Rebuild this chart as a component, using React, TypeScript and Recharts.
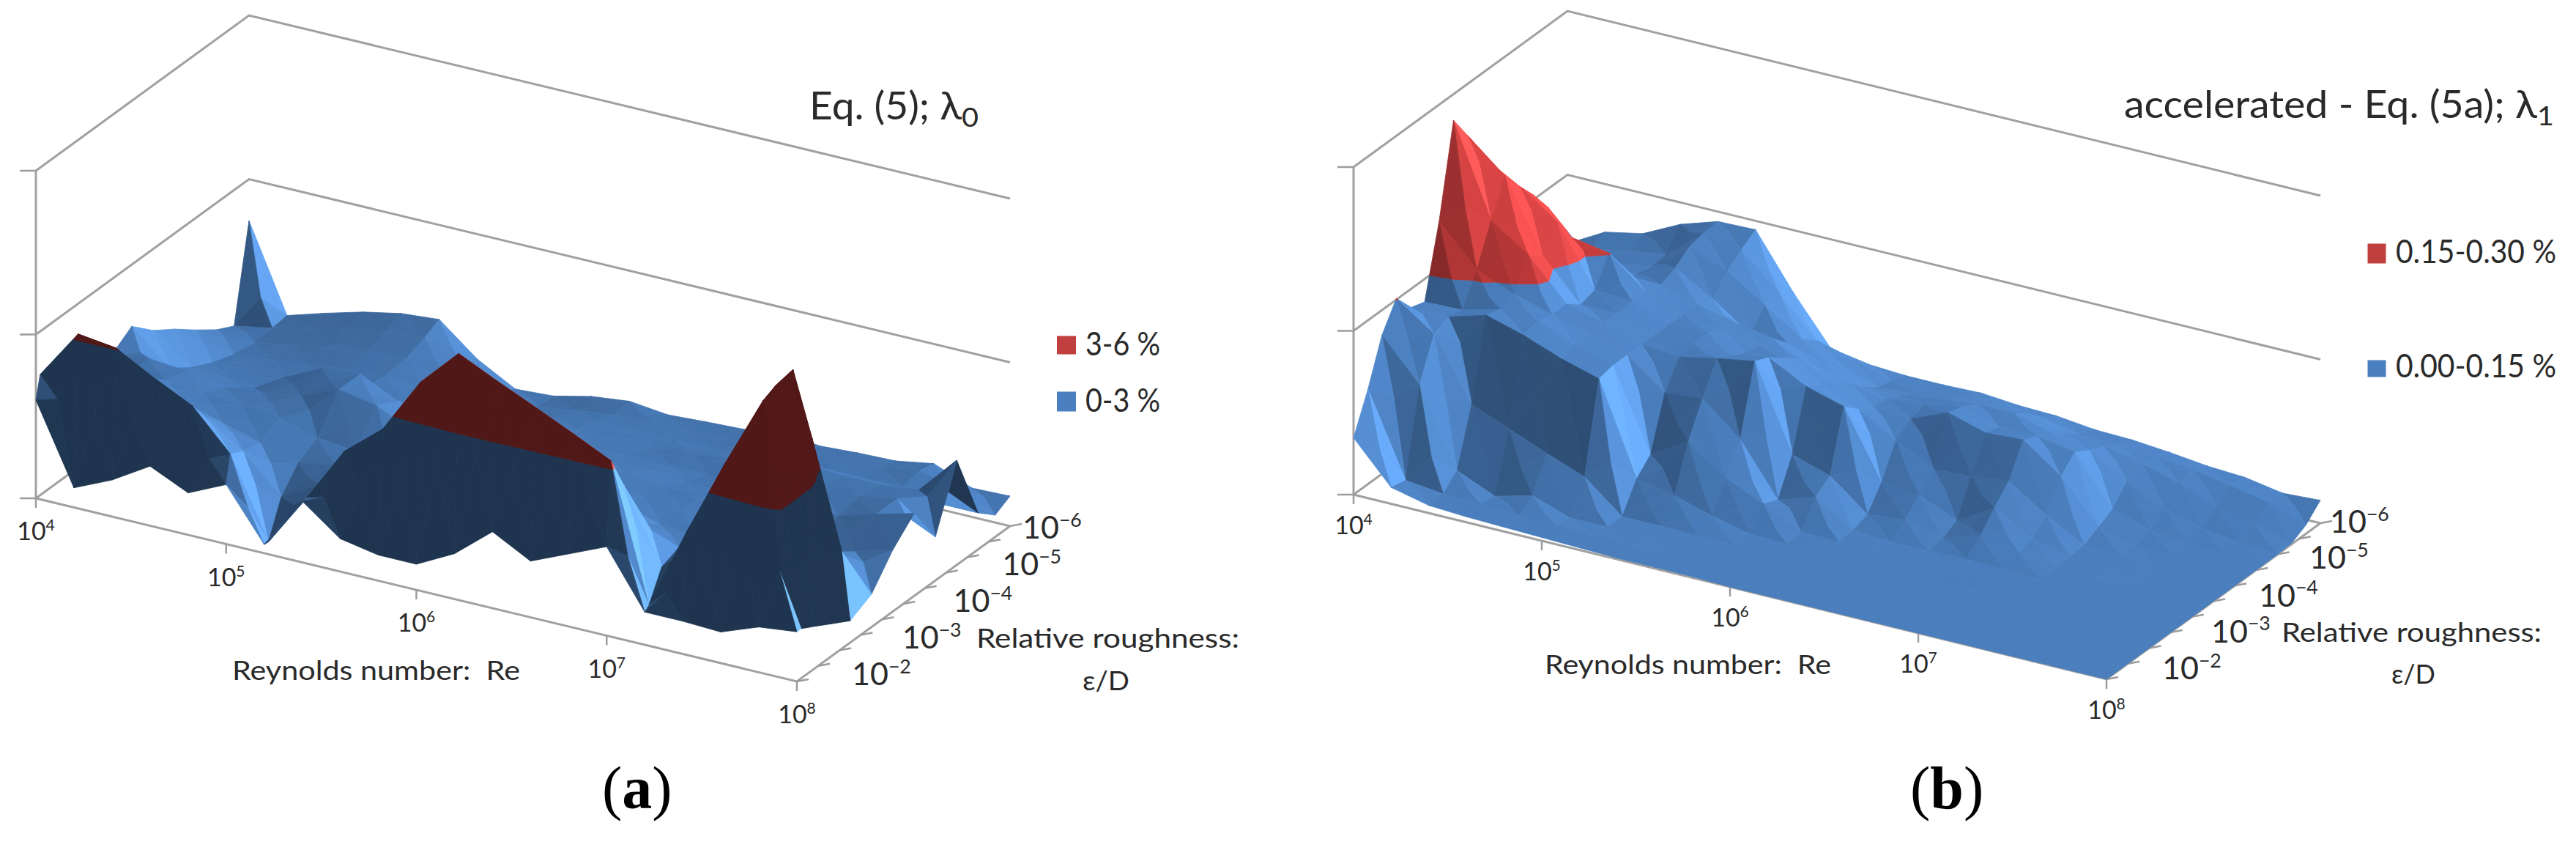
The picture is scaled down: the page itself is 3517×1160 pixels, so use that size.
import React from 'react';
import { ScatterChart, Scatter, XAxis, YAxis } from 'recharts';

// log10(Re) along the front edge
const reExp = [4, 4.2, 4.4, 4.6, 4.8, 5, 5.2, 5.4, 5.6, 5.8, 6, 6.2, 6.4, 6.6, 6.8, 7, 7.2, 7.4, 7.6, 7.8, 8];

// panel (a): log10(eps/D) rows and the error of lambda0 in %, one list per row
const roughExpA = [-2, -2.08, -2.32, -2.64, -3, -3.4, -3.8, -4.2, -4.6, -5, -5.4, -5.72, -6];
const errA0 = [1.8, 0.36, 0.67, 1.09, 0.77, 1.09, 0.16, 1.12, 0.6, 0.47, 0.47, 0.83, 1.4, 1.03, 1.33, 1.63, 0.6, 0.6, 0.57, 0.83, 0.91];
const errA1 = [2.21, 3.12, 3.03, 2.65, 2.31, 1.59, 0.15, 1.12, 2.15, 2.72, 3.75, 4.44, 4.11, 3.8, 3.48, 3.15, 0.67, 2.19, 3.6, 4.92, 0.91];
const errA2 = [1.73, 2.27, 2.33, 2.2, 1.93, 1.47, 0.8, 1.2, 1.67, 2.2, 3.13, 3.8, 3.53, 3.27, 2.87, 2.53, 1.2, 2, 3.6, 5.03, 0.78];
const errA3 = [1.67, 2, 2, 1.8, 1.6, 1.4, 1.2, 1.33, 1.47, 1.87, 2.4, 2.87, 2.67, 2.4, 2, 1.6, 1.33, 1.53, 3, 5.09, 0.6];
const errA4 = [1.53, 1.73, 1.8, 1.73, 1.67, 1.6, 1.4, 1.33, 1.33, 1.53, 1.8, 2.07, 1.93, 1.73, 1.53, 1.33, 1.27, 0.93, 0.67, 3.57, 0.4];
const errA5 = [1.6, 1.73, 1.67, 1.53, 1.6, 1.73, 2, 1.87, 1.53, 1.47, 1.47, 1.53, 1.47, 1.47, 1.4, 1.33, 1.2, 0.8, 0.67, 1.2, 0.6];
const errA6 = [1.87, 1.27, 1.2, 1.13, 1.6, 1.93, 2, 1.67, 1.27, 1.4, 1.47, 1.47, 1.4, 1.33, 1.27, 1.27, 1.2, 0.73, 0.8, 0.93, 1.13];
const errA7 = [1.51, 1, 0.96, 0.96, 1.27, 1.33, 1.27, 1.07, 0.87, 1.13, 1.2, 1.2, 1.13, 1.13, 1.07, 1.07, 1.13, 1.2, 1.13, 1.33, 1.51];
const errA8 = [1.25, 0.8, 0.83, 0.87, 0.93, 1, 0.93, 0.8, 0.67, 1, 1, 0.93, 0.93, 0.93, 0.93, 1, 1.13, 1.13, 1.2, 1.33, 0.8];
const errA9 = [0.95, 0.67, 0.73, 0.8, 0.91, 0.96, 0.83, 0.67, 0.56, 0.8, 0.8, 0.8, 0.8, 0.87, 0.93, 1, 1.2, 1.13, 1.13, 1.2, 1.92];
const errA10 = [0.67, 0.6, 0.73, 0.87, 0.96, 1, 0.83, 0.56, 0.47, 0.6, 0.67, 0.67, 0.67, 0.67, 0.73, 0.73, 0.8, 0.8, 0.8, 0.67, 0.67];
const errA11 = [0.51, 0.64, 0.8, 0.96, 1.09, 1.13, 0.8, 0.47, 0.37, 0.47, 0.56, 0.6, 0.6, 0.63, 0.67, 0.69, 0.73, 0.76, 0.87, 0.73, 0.4];
const errA12 = [2.24, 0.67, 0.88, 1.07, 1.21, 1.27, 0.71, 0.33, 0.37, 0.53, 0.61, 0.53, 0.57, 0.6, 0.71, 0.63, 0.67, 0.69, 0.81, 0.53, 0.55];
const errA = [errA0, errA1, errA2, errA3, errA4, errA5, errA6, errA7, errA8, errA9, errA10, errA11, errA12];

// panel (b): error of lambda1 in thousandths of %, one list per Re column
const roughExpB = [-2, -2.27, -2.53, -2.8, -3.07, -3.33, -3.6, -3.87, -4.13, -4.4, -4.67, -4.93, -5.2, -5.47, -5.73, -6];
const errB0 = [52, 87, 127, 151, 133, 129, 193, 276, 253, 218, 199, 167, 133, 100, 90, 87];
const errB1 = [15, 12, 90, 127, 133, 130, 157, 193, 224, 205, 187, 167, 137, 100, 100, 106];
const errB2 = [7, 8, 20, 71, 143, 139, 143, 169, 160, 181, 157, 133, 107, 105, 107, 113];
const errB3 = [5, 7, 5, 57, 133, 137, 133, 133, 123, 127, 151, 117, 113, 110, 112, 130];
const errB4 = [4, 5, 14, 43, 120, 123, 123, 124, 124, 125, 123, 121, 127, 137, 140, 141];
const errB5 = [3, 5, 2, 30, 110, 113, 113, 113, 113, 113, 112, 111, 107, 123, 133, 142];
const errB6 = [2, 3, 2, 2, 27, 40, 87, 110, 113, 113, 107, 103, 83, 100, 103, 93];
const errB7 = [1, 2, 2, 2, 20, 60, 90, 117, 110, 103, 100, 97, 83, 77, 67, 50];
const errB8 = [1, 1, 1, 2, 10, 35, 61, 123, 117, 107, 97, 83, 73, 63, 57, 44];
const errB9 = [1, 1, 1, 1, 2, 20, 14, 46, 99, 90, 83, 73, 60, 50, 47, 42];
const errB10 = [0, 1, 1, 1, 1, 3, 25, 35, 89, 77, 70, 67, 60, 53, 47, 42];
const errB11 = [0, 0, 1, 1, 1, 2, 3, 8, 28, 57, 67, 70, 67, 57, 50, 43];
const errB12 = [0, 0, 0, 1, 1, 1, 1, 12, 25, 39, 81, 77, 70, 60, 50, 40];
const errB13 = [0, 0, 0, 0, 1, 1, 1, 3, 10, 41, 71, 67, 70, 60, 47, 39];
const errB14 = [0, 0, 0, 0, 0, 1, 2, 14, 30, 45, 73, 67, 60, 50, 40, 35];
const errB15 = [0, 0, 0, 0, 0, 1, 1, 7, 10, 22, 48, 61, 53, 47, 40, 34];
const errB16 = [0, 0, 0, 0, 0, 0, 1, 1, 2, 3, 10, 17, 33, 40, 37, 31];
const errB17 = [0, 0, 0, 0, 0, 0, 0, 1, 1, 2, 2, 7, 17, 30, 33, 27];
const errB18 = [0, 0, 0, 0, 0, 0, 0, 0, 0, 0, 1, 2, 7, 17, 27, 25];
const errB19 = [0, 0, 0, 0, 0, 0, 0, 0, 0, 0, 0, 1, 2, 10, 20, 19];
const errB20 = [0, 0, 0, 0, 0, 0, 0, 0, 0, 0, 0, 0, 0, 1, 8, 21];
const errBByRe = [errB0, errB1, errB2, errB3, errB4, errB5, errB6, errB7, errB8, errB9, errB10, errB11, errB12, errB13, errB14, errB15, errB16, errB17, errB18, errB19, errB20];
const errB = roughExpB.map((_, k) => errBByRe.map((col) => col[k]));

const reTicks = [4, 5, 6, 7, 8];
const roughTicks = [-2, -3, -4, -5, -6];
const roughMarks = [-2, -2.4, -2.8, -3.2, -3.6, -4, -4.4, -4.8, -5.2, -5.6, -6];

const W = 3517;
const H = 1160;

// the oblique view of each panel: origin at Re=1e4, eps/D=1e-2
const viewA = { ox: 49, oy: 680, ux: 1039, uy: 250, vx: 291, vy: -212, zMax: 6, zPx: 74.5, band: 3, uScale: 2000, bias: 0.15, fallDarkV: -900, fallDarkU: -4500 };
const viewB = { ox: 1848, oy: 675, ux: 1028, uy: 252, vx: 292, vy: -213, zMax: 300, zPx: 1.49, band: 150, uScale: 2800, bias: 0, fallDarkV: -1e9, fallDarkU: -1e9 };

const project = (view: any, re: number, rough: number, z: number) => {
  const u = (re - 4) / 4;
  const v = (-2 - rough) / 4;
  return {
    x: view.ox + view.ux * u + view.vx * v,
    y: view.oy + view.uy * u + view.vy * v - z * view.zPx,
  };
};

const blue = [74, 126, 189];
const red = [192, 58, 58];

const shadeColor = (base: number[], f: number) => {
  const c = base.map((b) => Math.round(Math.min(255, b * f + (f > 1 ? (f - 1) * 40 : 0))));
  return `rgb(${c[0]},${c[1]},${c[2]})`;
};

// brightness from the slope of a facet: rising to the back or the right is dark,
// and a very steep wall falling away is in shadow too
const facetLight = (p: any[], view: any) => {
  const u = (a: any) => (a.re - 4) / 4;
  const v = (a: any) => (-2 - a.rough) / 4;
  const du1 = u(p[1]) - u(p[0]);
  const dv1 = v(p[1]) - v(p[0]);
  const dz1 = (p[1].z - p[0].z) * view.zPx;
  const du2 = u(p[2]) - u(p[0]);
  const dv2 = v(p[2]) - v(p[0]);
  const dz2 = (p[2].z - p[0].z) * view.zPx;
  const det = du1 * dv2 - du2 * dv1;
  const zu = (dz1 * dv2 - dz2 * dv1) / det;
  const zv = (du1 * dz2 - du2 * dz1) / det;
  if (zv < view.fallDarkV || zu < view.fallDarkU) return 0.43;
  const t = zu / view.uScale + zv / 1900 + view.bias;
  return t > 0 ? 1 - 0.58 * Math.tanh(t) : 1 + 0.5 * Math.tanh(-t);
};

const clipBand = (p: any[], level: number, above: boolean) => {
  const out: any[] = [];
  p.forEach((a, n) => {
    const b = p[(n + 1) % p.length];
    const aIn = above ? a.z >= level : a.z <= level;
    const bIn = above ? b.z >= level : b.z <= level;
    if (aIn) out.push(a);
    if (aIn !== bIn) {
      const s = (level - a.z) / (b.z - a.z);
      out.push({ re: a.re + (b.re - a.re) * s, rough: a.rough + (b.rough - a.rough) * s, z: level });
    }
  });
  return out;
};

const buildSurface = (view: any, roughExp: number[], grid: number[][]) => {
  const polys: any[] = [];
  const node = (i: number, k: number) => ({ re: reExp[i], rough: roughExp[k], z: grid[k][i] });
  const addFacet = (tri: any[]) => {
    const f = facetLight(tri, view);
    [false, true].forEach((above) => {
      const part = clipBand(tri, view.band, above);
      if (part.length < 3) return;
      const pts = part.map((q) => project(view, q.re, q.rough, q.z));
      polys.push({
        x: pts.reduce((s, q) => s + q.x, 0) / pts.length,
        y: pts.reduce((s, q) => s + q.y, 0) / pts.length,
        pts,
        fill: shadeColor(above ? red : blue, f),
      });
    });
  };
  // back to front: the nearest corner is Re=1e8, eps/D=1e-2
  for (let k = roughExp.length - 2; k >= 0; k--) {
    for (let i = 0; i < reExp.length - 1; i++) {
      const A = node(i, k);
      const B = node(i + 1, k);
      const C = node(i + 1, k + 1);
      const D = node(i, k + 1);
      const M = {
        re: (A.re + B.re) / 2,
        rough: (A.rough + D.rough) / 2,
        z: (A.z + B.z + C.z + D.z) / 4,
      };
      addFacet([D, C, M]);
      addFacet([A, D, M]);
      addFacet([B, C, M]);
      addFacet([A, B, M]);
    }
  }
  return polys;
};

const boxLines = (view: any) => {
  const p = (re: number, rough: number, z: number) => project(view, re, rough, z);
  return [
    [p(4, -2, view.zMax), p(4, -6, view.zMax), p(8, -6, view.zMax)],
    [p(4, -2, view.zMax / 2), p(4, -6, view.zMax / 2), p(8, -6, view.zMax / 2)],
    [p(4, -2, 0), p(4, -6, 0), p(8, -6, 0)],
    [p(4, -2, view.zMax), p(4, -2, 0), p(8, -2, 0), p(8, -6, 0)],
  ];
};

const tickMarks = (view: any) => [
  ...[0, 0.5, 1].map((s) => ({ ...project(view, 4, -2, s * view.zMax), dx: -22, dy: 0 })),
  ...reTicks.map((re) => ({ ...project(view, re, -2, 0), dx: 0, dy: 13 })),
  ...roughMarks.map((r) => ({ ...project(view, 8, r, 0), dx: 16, dy: -3 })),
];

const surfaceA = buildSurface(viewA, roughExpA, errA);
const surfaceB = buildSurface(viewB, roughExpB, errB);

const roughLabelShiftA = [[75, 5], [71, 8], [68, 11], [62, 14], [17, 17]];
const roughLabelShiftB = [[76, 0], [70, 3], [62, 7], [58, 9], [13, 13]];

const tickLabels = (view: any, reDrop: number, shift: number[][]) => [
  ...reTicks.map((re) => {
    const q = project(view, re, -2, 0);
    return { x: q.x, y: q.y + reDrop, text: '10', sup: String(re), size: 34, anchor: 'middle' };
  }),
  ...roughTicks.map((r, n) => {
    const q = project(view, 8, r, 0);
    return { x: q.x + shift[n][0], y: q.y + shift[n][1], text: '10', sup: '\u2212' + Math.abs(r), size: 43, anchor: 'start' };
  }),
];

const notes = [
  ...tickLabels(viewA, 57, roughLabelShiftA),
  ...tickLabels(viewB, 54, roughLabelShiftB),
  { x: 1105, y: 163, text: 'Eq. (5); \u03bb', sub: '0', size: 52, anchor: 'start', len: 231 },
  { x: 2900, y: 161, text: 'accelerated - Eq. (5a); \u03bb', sub: '1', size: 52, anchor: 'start', len: 587 },
  { x: 317, y: 928, text: 'Reynolds number:  Re', size: 37, anchor: 'start', len: 393 },
  { x: 2109, y: 920, text: 'Reynolds number:  Re', size: 37, anchor: 'start', len: 391 },
  { x: 1333, y: 884, text: 'Relative roughness:', size: 37, anchor: 'start', len: 359 },
  { x: 3115, y: 876, text: 'Relative roughness:', size: 37, anchor: 'start', len: 355 },
  { x: 1478, y: 942, text: '\u03b5/D', size: 37, anchor: 'start', len: 64 },
  { x: 3265, y: 933, text: '\u03b5/D', size: 37, anchor: 'start', len: 60 },
  { x: 1482, y: 485, text: '3-6 %', size: 44, anchor: 'start', len: 102 },
  { x: 1482, y: 562, text: '0-3 %', size: 44, anchor: 'start', len: 102 },
  { x: 3271, y: 359, text: '0.15-0.30 %', size: 44, anchor: 'start', len: 219 },
  { x: 3271, y: 515, text: '0.00-0.15 %', size: 44, anchor: 'start', len: 219 },
];

const captions = [
  { x: 822, y: 1103, letter: 'a' },
  { x: 2608, y: 1103, letter: 'b' },
];

const legendKeys = [
  { x: 1456, y: 471, w: 26, h: 25, fill: '#C0403F' },
  { x: 1456, y: 548, w: 26, h: 27, fill: '#4A7FC0' },
  { x: 3245, y: 346, w: 25, h: 27, fill: '#C0403F' },
  { x: 3245, y: 503, w: 25, h: 23, fill: '#4A7FC0' },
];

const NoMark = () => null;

const Facet = ({ cx, cy, payload }: any) => (
  <polygon
    points={payload.pts.map((q: any) => `${cx + q.x - payload.x},${cy + q.y - payload.y}`).join(' ')}
    fill={payload.fill}
    stroke={payload.fill}
    strokeWidth={0.8}
    strokeLinejoin="round"
  />
);

const TickMark = ({ cx, cy, payload }: any) => (
  <line x1={cx} y1={cy} x2={cx + payload.dx} y2={cy + payload.dy} stroke="#9C9C9C" strokeWidth={2.5} />
);

const Note = ({ cx, cy, payload }: any) => (
  <text
    x={cx}
    y={cy}
    fontFamily="Lato, 'Noto Sans', sans-serif"
    fontSize={payload.size}
    fill="#2A2A2A"
    textAnchor={payload.anchor}
    textLength={payload.len}
    lengthAdjust={payload.len ? 'spacingAndGlyphs' : undefined}
    style={{ whiteSpace: 'pre' }}
  >
    {payload.text}
    {payload.sup && (
      <tspan dy={-payload.size * 0.38} fontSize={payload.size * 0.62}>
        {payload.sup}
      </tspan>
    )}
    {payload.sub && (
      <tspan dy={payload.size * 0.2} fontSize={payload.size * 0.72}>
        {payload.sub}
      </tspan>
    )}
  </text>
);

const Caption = ({ cx, cy, payload }: any) => (
  <text x={cx} y={cy} fontFamily="'Liberation Serif', serif" fontSize={82} fill="#000">
    (<tspan fontWeight="bold">{payload.letter}</tspan>)
  </text>
);

const LegendKey = ({ cx, cy, payload }: any) => (
  <rect x={cx - payload.w / 2} y={cy - payload.h / 2} width={payload.w} height={payload.h} fill={payload.fill} />
);

const frame = [...boxLines(viewA), ...boxLines(viewB)];
const marks = [...tickMarks(viewA), ...tickMarks(viewB)];

export default function App() {
  return (
    <div style={{ position: 'absolute', left: 0, top: 0, width: W, height: H, background: '#fff' }}>
      <ScatterChart width={W} height={H} margin={{ top: 0, right: 0, bottom: 0, left: 0 }}>
        <XAxis type="number" dataKey="x" domain={[0, W]} hide />
        <YAxis type="number" dataKey="y" domain={[0, H]} reversed hide />
        {frame.map((line, n) => (
          <Scatter
            key={n}
            data={line}
            line={{ stroke: '#A0A0A0', strokeWidth: 3 }}
            shape={NoMark}
            isAnimationActive={false}
          />
        ))}
        <Scatter data={marks} shape={TickMark} isAnimationActive={false} />
        <Scatter data={surfaceA} shape={Facet} isAnimationActive={false} />
        <Scatter data={surfaceB} shape={Facet} isAnimationActive={false} />
        <Scatter data={legendKeys} shape={LegendKey} isAnimationActive={false} />
        <Scatter data={notes} shape={Note} isAnimationActive={false} />
        <Scatter data={captions} shape={Caption} isAnimationActive={false} />
      </ScatterChart>
    </div>
  );
}
